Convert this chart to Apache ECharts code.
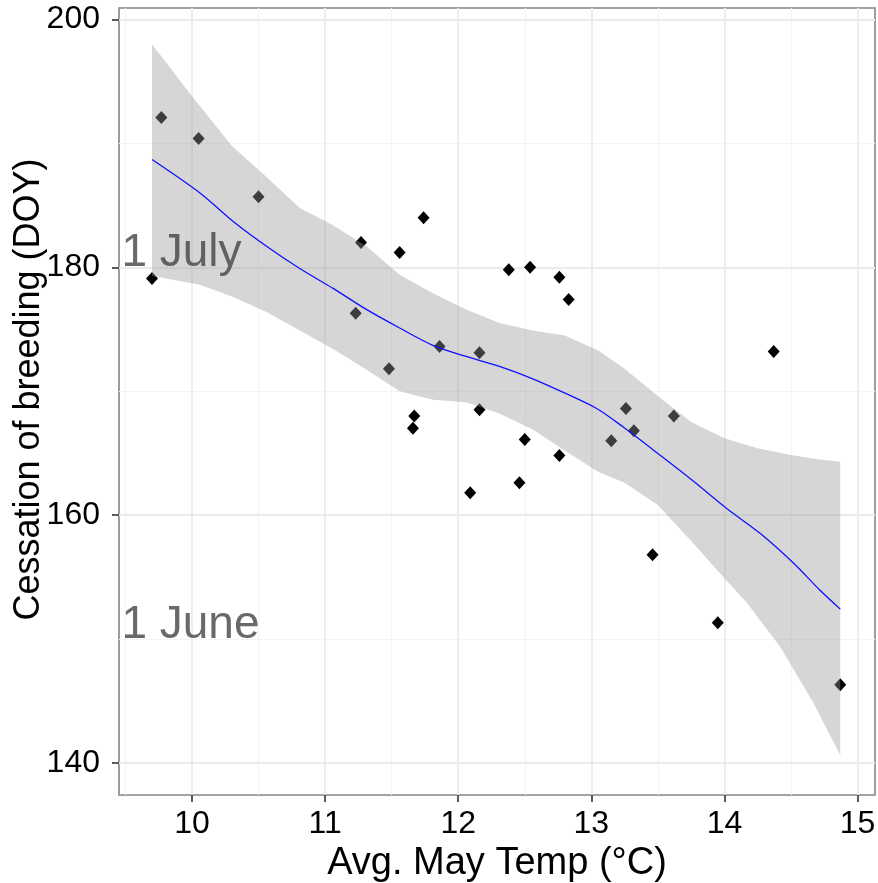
<!DOCTYPE html>
<html><head><meta charset="utf-8">
<script src="https://cdn.jsdelivr.net/npm/echarts@6/dist/echarts.min.js"></script>
<style>html,body{margin:0;padding:0;background:#fff}#c{width:878px;height:883px}</style>
</head><body><div id="c"></div>
<script>
// Observed points
const temps = [9.70, 9.77, 10.05, 10.50, 11.74, 11.27, 11.56, 12.38, 12.54, 12.76, 12.83, 11.23, 11.86, 12.16, 11.48, 12.16, 11.67, 11.66, 12.50, 13.15, 12.76, 12.46, 12.09, 13.26, 13.32, 13.62, 14.37, 13.46, 13.95, 14.87];
const doy   = [179.1, 192.1, 190.4, 185.7, 184.0, 182.0, 181.2, 179.8, 180.0, 179.2, 177.4, 176.3, 173.6, 173.1, 171.8, 168.5, 168.0, 167.0, 166.1, 166.0, 164.8, 162.6, 161.8, 168.6, 166.8, 168.0, 173.2, 156.8, 151.3, 146.3];
// Loess fit line
const fitX = [9.70, 10.06, 10.31, 10.56, 10.81, 11.06, 11.31, 11.56, 11.81, 12.06, 12.31, 12.56, 12.79, 13.04, 13.24, 13.52, 13.77, 14.02, 14.27, 14.52, 14.72, 14.87];
const fitY = [188.7, 186.0, 183.7, 181.7, 179.9, 178.3, 176.6, 175.1, 173.7, 172.8, 172.0, 171.0, 169.9, 168.6, 167.1, 164.8, 162.7, 160.5, 158.5, 156.1, 153.9, 152.4];
// Confidence band
const upperX = [9.70, 9.81, 9.95, 10.30, 10.55, 10.81, 11.06, 11.31, 11.56, 11.81, 12.06, 12.31, 12.56, 12.80, 13.05, 13.25, 13.50, 13.75, 14.00, 14.25, 14.50, 14.70, 14.87];
const upperY = [198.0, 196.5, 194.5, 189.8, 187.4, 184.8, 183.4, 181.7, 179.4, 177.9, 176.6, 175.5, 174.9, 174.5, 173.3, 171.8, 169.6, 167.5, 166.2, 165.4, 164.85, 164.5, 164.3];
const lowerX = [9.70, 10.06, 10.31, 10.56, 10.81, 11.06, 11.30, 11.56, 11.81, 12.06, 12.31, 12.56, 12.80, 13.05, 13.25, 13.50, 13.75, 14.00, 14.17, 14.42, 14.67, 14.87];
const lowerY = [179.3, 178.6, 177.6, 176.4, 174.9, 173.4, 171.8, 170.0, 169.3, 169.1, 168.2, 166.9, 165.2, 163.5, 162.6, 160.8, 157.9, 154.9, 152.9, 149.35, 144.8, 140.6];
// Axes
const xTicks = [10, 11, 12, 13, 14, 15];
const yTicks = [140, 160, 180, 200];
const xMinor = [9.5, 10.5, 11.5, 12.5, 13.5, 14.5];
const yMinor = [150, 170, 190];
const xRange = [9.452, 15.131];
const yRange = [137.39, 200.94];
// Annotations
const annoLabels = ['1 July', '1 June'];
const annoY = [180, 150];
const annoX = 9.47;

const FONT = 'Liberation Sans, Arial, sans-serif';
const chart = echarts.init(document.getElementById('c'), null, {renderer: 'canvas'});

const gridLines = [
  ...xMinor.map(v => ({xAxis: v, lineStyle: {color: '#f4f4f4', width: 1, type: 'solid'}})),
  ...yMinor.map(v => ({yAxis: v, lineStyle: {color: '#f4f4f4', width: 1, type: 'solid'}})),
  ...xTicks.map(v => ({xAxis: v, lineStyle: {color: '#ebebeb', width: 1.8, type: 'solid'}})),
  ...yTicks.map(v => ({yAxis: v, lineStyle: {color: '#ebebeb', width: 1.8, type: 'solid'}}))
];

chart.setOption({
  animation: false,
  backgroundColor: '#fff',
  grid: {left: 119, right: 3, top: 8, bottom: 88, show: true, borderColor: '#858585', borderWidth: 1.6,
         backgroundColor: 'transparent', containLabel: false, outerBoundsMode: 'none'},
  xAxis: {
    type: 'value', min: xRange[0], max: xRange[1], splitNumber: 5,
    name: 'Avg. May Temp (°C)', nameLocation: 'middle', nameGap: 50, nameMoveOverlap: false,
    nameTextStyle: {fontSize: 38, color: '#000', fontFamily: FONT},
    axisLine: {show: false},
    axisTick: {show: true, length: 7, customValues: xTicks, lineStyle: {color: '#333', width: 1.6}},
    axisLabel: {fontSize: 32, color: '#000', fontFamily: FONT, margin: 13, customValues: xTicks},
    splitLine: {show: false}
  },
  yAxis: {
    type: 'value', min: yRange[0], max: yRange[1], splitNumber: 3,
    name: 'Cessation of breeding (DOY)', nameLocation: 'middle', nameGap: 72, nameMoveOverlap: false,
    nameTextStyle: {fontSize: 36, color: '#000', fontFamily: FONT, padding: [0, 0, 0, 24]},
    axisLine: {show: false},
    axisTick: {show: true, length: 7, customValues: yTicks, lineStyle: {color: '#333', width: 1.6}},
    axisLabel: {fontSize: 32, color: '#000', fontFamily: FONT, margin: 19, customValues: yTicks},
    splitLine: {show: false}
  },
  series: [
    {
      type: 'scatter', data: [], z: 0, silent: true,
      markLine: {z: 0, silent: true, symbol: 'none', label: {show: false}, animation: false, data: gridLines}
    },
    {
      type: 'scatter', z: 3, silent: true,
      symbol: 'diamond', symbolSize: [12, 13],
      itemStyle: {color: '#000', opacity: 1},
      data: temps.map((t, i) => [t, doy[i]])
    },
    {
      type: 'custom', z: 5, silent: true,
      data: [[12, 170]],
      renderItem: function (params, api) {
        const pts = [];
        for (let i = 0; i < upperX.length; i++) pts.push(api.coord([upperX[i], upperY[i]]));
        for (let i = lowerX.length - 1; i >= 0; i--) pts.push(api.coord([lowerX[i], lowerY[i]]));
        return {type: 'polygon', shape: {points: pts}, style: {fill: 'rgba(153,153,153,0.4)'}};
      }
    },
    {
      type: 'line', z: 6, silent: true, showSymbol: false, smooth: 0.3,
      lineStyle: {color: '#1010ff', width: 1.3},
      data: fitX.map((x, i) => [x, fitY[i]])
    },
    {
      type: 'scatter', z: 8, silent: true, symbolSize: 0,
      data: annoLabels.map((l, i) => [annoX, annoY[i], l]),
      label: {
        show: true, position: [0, 0], align: 'left', verticalAlign: 'bottom', offset: [0, 9],
        formatter: p => p.value[2], fontSize: 46, color: '#444444', fontFamily: FONT
      }
    }
  ]
});
</script></body></html>
